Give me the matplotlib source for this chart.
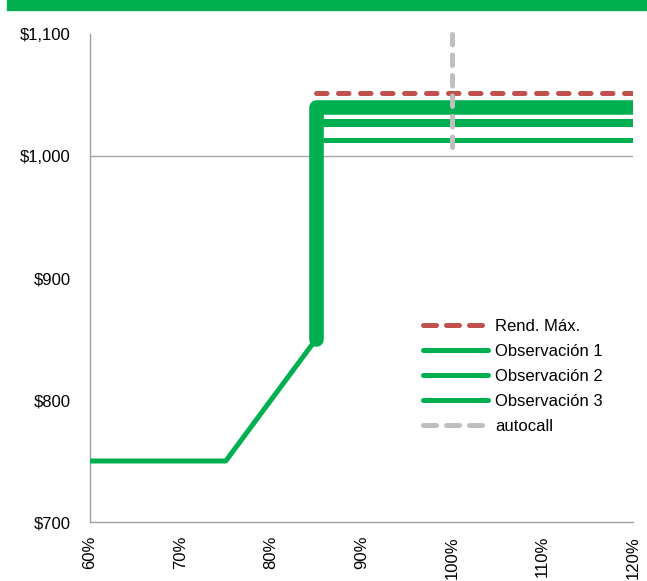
import matplotlib
matplotlib.use("Agg")
import matplotlib.pyplot as plt
from matplotlib.lines import Line2D
from matplotlib.patches import Rectangle

plt.rcParams['font.family'] = ['Liberation Sans', 'DejaVu Sans']

# ---- data ----
x_ticks = [60, 70, 80, 90, 100, 110, 120]
x_tick_labels = ["60%", "70%", "80%", "90%", "100%", "110%", "120%"]
y_ticks = [700, 800, 900, 1000, 1100]
y_tick_labels = ["$700", "$800", "$900", "$1,000", "$1,100"]

below_x = [60, 75, 85]          # underlying level (%) below barrier
below_y = [750, 750, 850]       # payoff below barrier
barrier = 85
x_end = 120
obs_labels = ["Observación 1", "Observación 2", "Observación 3"]
obs_values = [1040, 1027, 1013]
max_label = "Rend. Máx."
max_value = 1052
autocall_label = "autocall"
autocall_x = 100
autocall_range = [1000, 1100]
nominal = 1000

green = "#00B050"
red = "#C0504D"
gray = "#BFBFBF"
FS = 12

fig = plt.figure(figsize=(6.47, 5.81), dpi=100)
fig.patches.append(Rectangle((7 / 647, 1 - 10 / 581), 1, 10 / 581,
                             transform=fig.transFigure, color=green, zorder=0))
ax = fig.add_axes([90 / 647, 1 - 522 / 581, 543 / 647, 488 / 581])

ax.axhline(nominal, color="#A6A6A6", lw=1.0, zorder=1)

# lower payoff segment
ax.plot(below_x, below_y, color=green, lw=3.6, solid_joinstyle="round",
        solid_capstyle="butt", zorder=3)
# observation lines
widths = [10.5, 5.8, 3.6]
for i, (v, w) in enumerate(zip(obs_values, widths)):
    if i == 0:
        ax.plot([barrier, barrier, x_end], [below_y[-1], v, v], color=green, lw=w,
                solid_joinstyle="round", solid_capstyle="round", zorder=3)
    else:
        ax.plot([barrier, x_end], [v, v], color=green, lw=w,
                solid_capstyle="butt", zorder=3)

ax.plot([barrier, x_end], [max_value, max_value], color=red, lw=3.6,
        dashes=(2.1, 2.3), dash_capstyle="round", zorder=4)
ax.plot([autocall_x, autocall_x], autocall_range[::-1], color=gray, lw=3.6,
        dashes=(2.1, 2.0), dash_capstyle="round", zorder=5, clip_on=False)

ax.set_xlim(60, 120)
ax.set_ylim(700, 1100)
ax.set_xticks(x_ticks)
ax.set_xticklabels(x_tick_labels, rotation=90, fontsize=FS)
ax.set_yticks(y_ticks)
ax.set_yticklabels(y_tick_labels, fontsize=FS)
ax.tick_params(axis="both", length=0, colors="#000000")
ax.tick_params(axis="y", pad=14)
ax.tick_params(axis="x", pad=10)
for s in ["top", "right"]:
    ax.spines[s].set_visible(False)
for s in ["left", "bottom"]:
    ax.spines[s].set_color("#A0A0A0")
    ax.spines[s].set_linewidth(1.0)

handles = [
    Line2D([], [], color=red, lw=3.6, dashes=(2.6, 2.0), dash_capstyle="round"),
    Line2D([], [], color=green, lw=3.6, solid_capstyle="round"),
    Line2D([], [], color=green, lw=3.6, solid_capstyle="round"),
    Line2D([], [], color=green, lw=3.6, solid_capstyle="round"),
    Line2D([], [], color=gray, lw=3.6, dashes=(2.6, 2.0), dash_capstyle="round"),
]
labels = [max_label] + obs_labels + [autocall_label]
ax.legend(handles, labels, loc="upper left",
          bbox_to_anchor=((423 - 90) / 543, (522 - 319) / 488),
          frameon=False, fontsize=FS, handlelength=3.9, handletextpad=0.42,
          labelspacing=0.6, borderpad=0, borderaxespad=0)

fig.savefig("out.png", dpi=100)
